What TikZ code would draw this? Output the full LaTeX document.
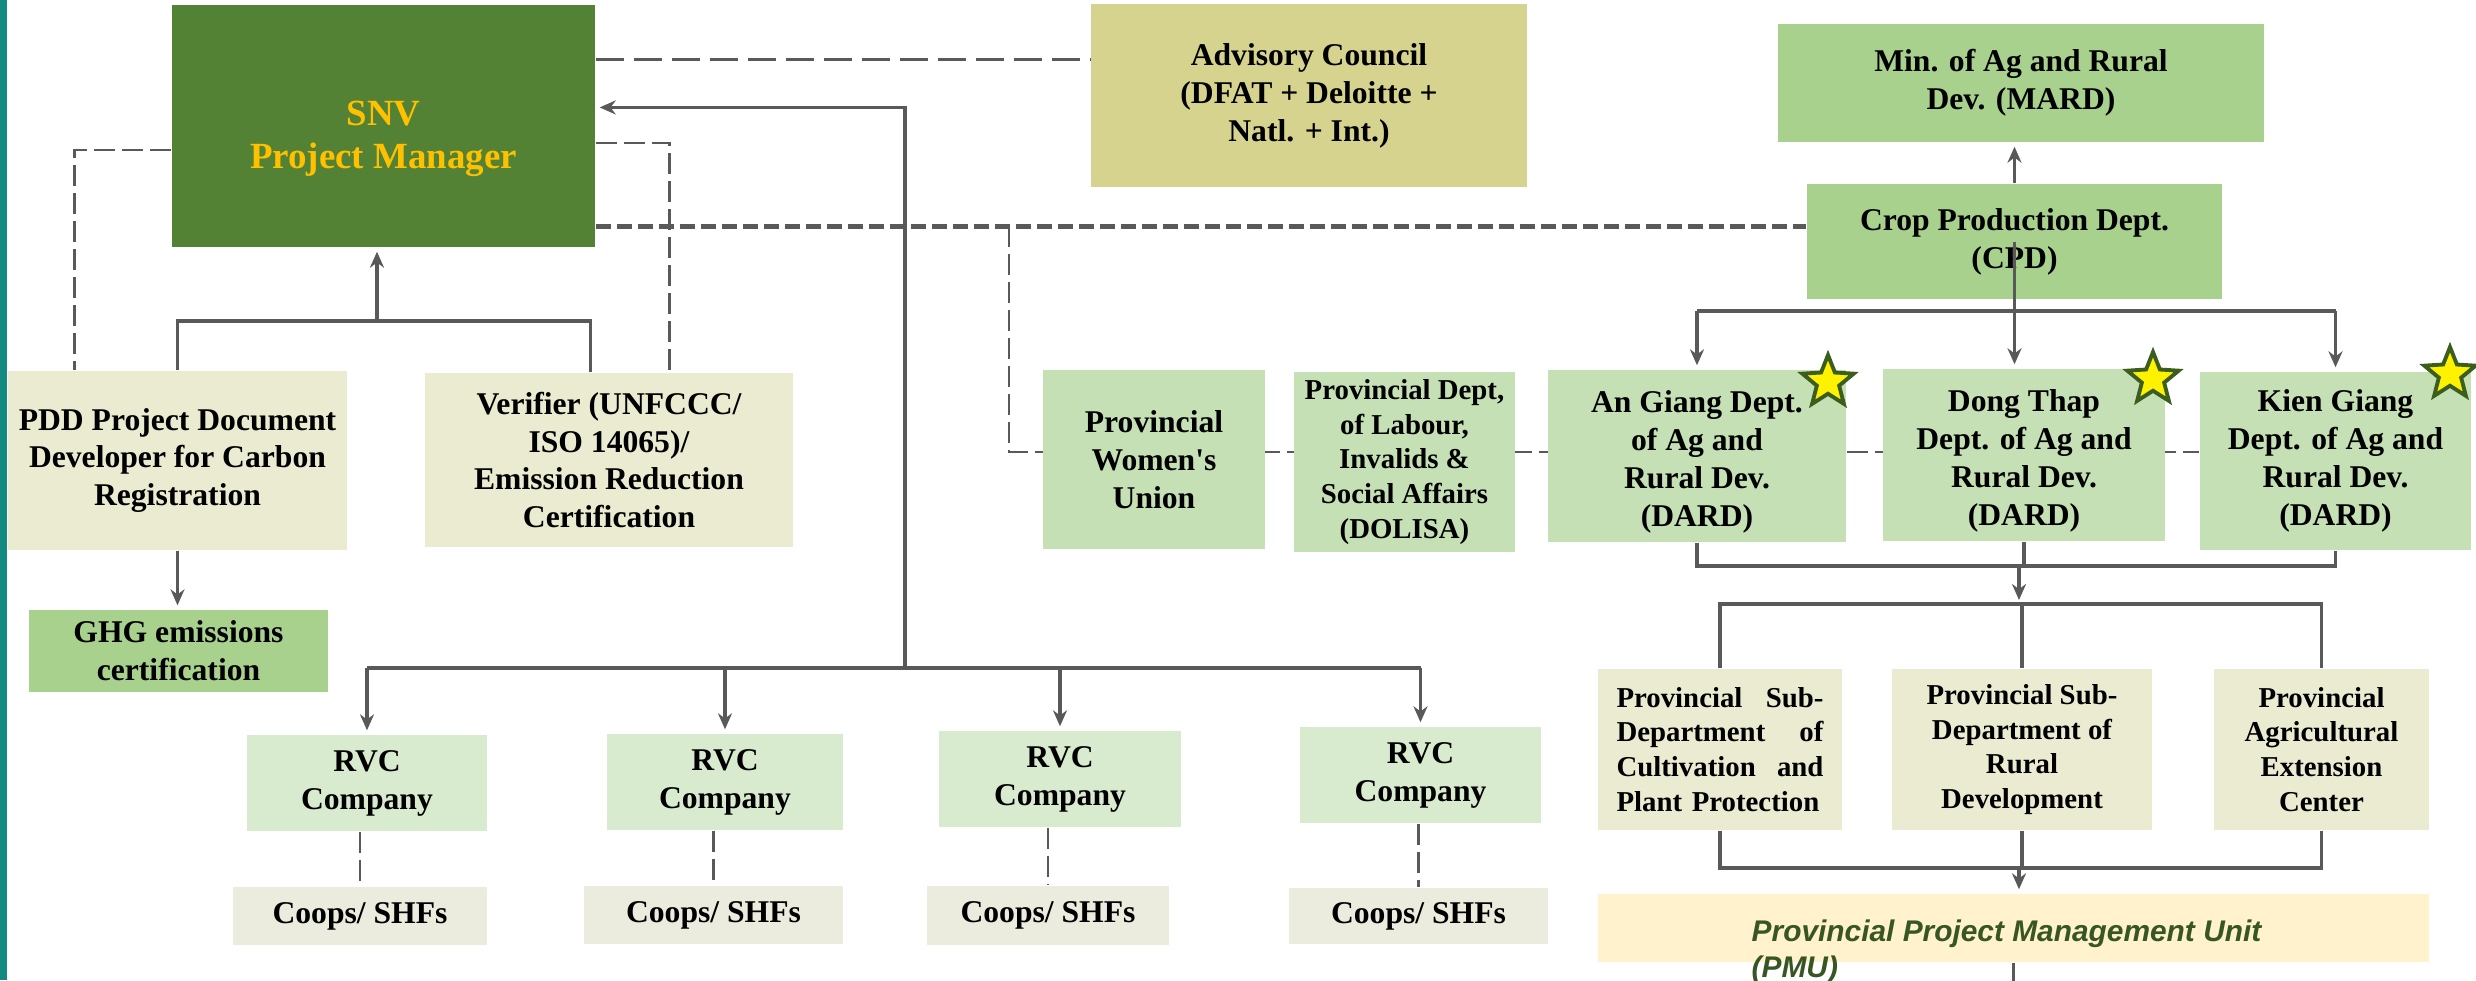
\documentclass[tikz,border=0pt]{standalone}
\usepackage{fontspec}
\setmainfont{Liberation Serif}
\newfontfamily\pmufont{Liberation Sans}
\usepackage{xcolor}
\usepackage{tikz}
\usetikzlibrary{positioning}
\usetikzlibrary{calc}
\usetikzlibrary{shapes.geometric}
\usetikzlibrary{arrows.meta}
\usetikzlibrary{backgrounds}

\definecolor{linegray}{HTML}{595959}
\definecolor{snvgreen}{HTML}{548235}
\definecolor{snvgold}{HTML}{FFC000}
\definecolor{khaki}{HTML}{D5D38E}
\definecolor{midgreen}{HTML}{A9D18E}
\definecolor{palegreen}{HTML}{C5E0B4}
\definecolor{rvcgreen}{HTML}{D8EBCE}
\definecolor{beige}{HTML}{EBEBD1}
\definecolor{coopgray}{HTML}{EBEBDE}
\definecolor{pmuyellow}{HTML}{FFF2CC}
\definecolor{pmutext}{HTML}{375623}
\definecolor{barteal}{HTML}{128A80}
\definecolor{stargreen}{HTML}{3B5E1C}

\begin{document}
\begin{tikzpicture}[x=0.1mm, y=-0.1mm, >={Stealth[length=1.6mm,width=1.4mm]},
        box/.style={rectangle, inner sep=0pt, align=center,
            font=\bfseries\fontsize{9}{10.8}\selectfont},
        small/.style={font=\bfseries\fontsize{8.2}{9.9}\selectfont},
        conn/.style={draw=linegray, line width=0.9pt},
        arr/.style={conn, ->, shorten >=0.4mm},
        dashtop/.style={draw=linegray, line width=0.7pt, dash pattern=on 2.8mm off 1mm},
        dashthick/.style={draw=linegray, line width=1.4pt, dash pattern=on 1.5mm off 0.6mm},
        dashthin/.style={draw=linegray, line width=0.8pt, dash pattern=on 2.1mm off 0.7mm},
        dardstar/.style={star, star points=5, star point ratio=2.3, fill=yellow,
            draw=stargreen, line width=1.1pt, minimum size=5.4mm, inner sep=0pt}]
    \useasboundingbox (0,0) rectangle (2476,980);
    \fill[barteal] (0,0) rectangle (7,980);

    % left side
    \node [box, fill=snvgreen, text=snvgold, font=\bfseries\fontsize{10.5}{12}\selectfont,
        minimum width=42.3mm, minimum height=24.2mm] (snv) at (383.5,126) {\rule{0pt}{5mm}SNV\\Project Manager};
    \node [box, fill=khaki, minimum width=43.6mm, minimum height=18.3mm] (adv) at (1309,95.5)
        {Advisory Council\\(DFAT + Deloitte +\\Natl. + Int.)};
    \node [box, fill=beige, minimum width=33.9mm, minimum height=17.9mm] (pdd) at (177.5,460.5)
        {PDD Project Document\\Developer for Carbon\\Registration};
    \node [box, fill=beige, minimum width=36.8mm, minimum height=17.4mm] (ver) at (609,460)
        {Verifier (UNFCCC/\\ISO 14065)/\\Emission Reduction\\Certification};
    \node [box, fill=midgreen, minimum width=29.9mm, minimum height=8.2mm] (ghg) at (178.5,651)
        {GHG emissions\\certification};

    \node [box, fill=rvcgreen, minimum width=24mm, minimum height=9.6mm] (rvc1) at (367,783) {RVC\\Company};
    \node [box, fill=rvcgreen, minimum width=23.6mm, minimum height=9.6mm] (rvc2) at (725,782) {RVC\\Company};
    \node [box, fill=rvcgreen, minimum width=24.2mm, minimum height=9.6mm] (rvc3) at (1060,779) {RVC\\Company};
    \node [box, fill=rvcgreen, minimum width=24.1mm, minimum height=9.6mm] (rvc4) at (1420.5,775) {RVC\\Company};
    \node [box, fill=coopgray, minimum width=25.4mm, minimum height=5.8mm] (coop1) at (360,916) {Coops/ SHFs};
    \node [box, fill=coopgray, minimum width=25.9mm, minimum height=5.8mm] (coop2) at (713.5,915) {Coops/ SHFs};
    \node [box, fill=coopgray, minimum width=24.2mm, minimum height=5.9mm] (coop3) at (1048,915.5) {Coops/ SHFs};
    \node [box, fill=coopgray, minimum width=25.9mm, minimum height=5.6mm] (coop4) at (1418.5,916) {Coops/ SHFs};

    % right side
    \node [box, fill=midgreen, minimum width=48.6mm, minimum height=11.8mm] (mard) at (2021,83)
        {Min. of Ag and Rural\\Dev. (MARD)};
    \node [box, fill=midgreen, minimum width=41.5mm, minimum height=11.5mm] (cpd) at (2014.5,241.5)
        {Crop Production Dept.\\(CPD)};
    \node [box, fill=palegreen, minimum width=22.2mm, minimum height=17.9mm] (wu) at (1154,459.5)
        {Provincial\\Women\textquotesingle s\\Union};
    \node [box, small, fill=palegreen, minimum width=22.1mm, minimum height=18mm] (dol) at (1404.5,462)
        {Provincial Dept,\\of Labour,\\Invalids \&\\Social Affairs\\(DOLISA)};
    \node [box, fill=palegreen, minimum width=29.8mm, minimum height=17.2mm] (ang) at (1697,456)
        {\rule{0pt}{3.4mm}An Giang Dept.\\of Ag and\\Rural Dev.\\(DARD)};
    \node [box, fill=palegreen, minimum width=28.2mm, minimum height=17.2mm] (dth) at (2024,455)
        {\rule{0pt}{3.4mm}Dong Thap\\Dept. of Ag and\\Rural Dev.\\(DARD)};
    \node [box, fill=palegreen, minimum width=27.1mm, minimum height=17.8mm] (kgi) at (2335.5,461)
        {Kien Giang\\Dept. of Ag and\\Rural Dev.\\(DARD)};
    \node [dardstar] (star1) at (1828,382) {};
    \node [dardstar] (star2) at (2153,379) {};
    \node [dardstar] (star3) at (2450,374) {};

    \node [box, small, fill=beige, minimum width=24.4mm, minimum height=16.1mm,
        text width=20.7mm, align=left] (sub1) at (1720,749.5)
        {Provincial\hfill Sub-\\Department\hfill of\\Cultivation\hfill and\\Plant Protection};
    \node [box, small, fill=beige, minimum width=26mm, minimum height=16.1mm] (sub2) at (2022,749.5)
        {Provincial Sub-\\Department of\\Rural\\Development};
    \node [box, small, fill=beige, minimum width=21.5mm, minimum height=16.1mm] (ext) at (2321.5,749.5)
        {Provincial\\Agricultural\\Extension\\Center};
    \node [box, fill=pmuyellow, minimum width=83.1mm, minimum height=6.8mm] (pmu) at (2013.5,928) {};
    \node [anchor=north west, inner sep=0pt, align=left, text=pmutext,
        font=\pmufont\bfseries\itshape\fontsize{8.5}{10.2}\selectfont] (pmulbl) at (1751,919)
        {Provincial Project Management Unit\\(PMU)};

    % dashed links
    \draw[dashtop] (snv.north east) ++(0,55) coordinate (t1) -- (t1 -| adv.west);
    \draw[dashthick] (snv.south east) ++(0,-21) coordinate (t2) -- (t2 -| cpd.west);
    \coordinate (j1) at (1009,226);
    \begin{scope}[on background layer]
        \draw[dashthin] (j1) -- ++(0,226) coordinate (j2) -- (j2 -| kgi.west);
    \end{scope}
    \draw[dashthin] (snv.west) ++(0,24) -| ($(pdd.north west)+(67,0)$);
    \draw[dashthin] (snv.east) ++(0,17) -| ($(ver.north west)+(245,0)$);
    \path (coop1.north |- rvc1.south) edge [dashthin] (coop1.north);
    \path (coop2.north |- rvc2.south) edge [dashthin] (coop2.north);
    \path (coop3.north |- rvc3.south) edge [dashthin] (coop3.north);
    \path (coop4.north |- rvc4.south) edge [dashthin] (coop4.north);

    % reporting lines, left
    \coordinate (pbus) at (377,321);
    \draw[conn] (pdd.north) |- (pbus) -| ($(ver.north west)+(166,0)$);
    \draw[arr] (pbus) -- (pbus |- snv.south);
    \draw[arr] (pdd.south) -- (pdd.south |- ghg.north);

    \coordinate (rbus) at (905,668);
    \draw[arr] (rbus) |- (snv.5);
    \draw[conn] (rvc1.north |- rbus) -- (rvc4.north |- rbus);
    \draw[arr] (rvc1.north |- rbus) -- (rvc1.north);
    \draw[arr] (rvc2.north |- rbus) -- (rvc2.north);
    \draw[arr] (rvc3.north |- rbus) -- (rvc3.north);
    \draw[arr] (rvc4.north |- rbus) -- (rvc4.north);

    % reporting lines, right
    \draw[arr] (cpd.north) -- (cpd.north |- mard.south);
    \coordinate (cbus) at (2014,311);
    \draw[conn] (ang.north |- cbus) -- (kgi.north |- cbus);
    \draw[arr] (ang.north |- cbus) -- (ang.north);
    \draw[arr] (kgi.north |- cbus) -- (kgi.north);
    \draw[arr] (cpd.center) -- (cpd.center |- dth.north);

    \coordinate (dbus) at (2019,566);
    \coordinate (sbus) at (2019,604);
    \coordinate (ubus) at (2019,868);
    \draw[conn] (ang.south) |- (dbus) -| (kgi.south);
    \draw[conn] (dth.south) -- (dth.south |- dbus);
    \draw[arr] (dbus) -- (sbus);
    \draw[conn] (sub1.north) |- (sbus) -| (ext.north);
    \draw[conn] (sub2.north) -- (sub2.north |- sbus);
    \draw[conn] (sub1.south) |- (ubus) -| (ext.south);
    \draw[conn] (sub2.south) -- (sub2.south |- ubus);
    \draw[arr] (ubus) -- (ubus |- pmu.north);
    \draw[conn] (pmu.south) -- ++(0,18);
\end{tikzpicture}
\end{document}
